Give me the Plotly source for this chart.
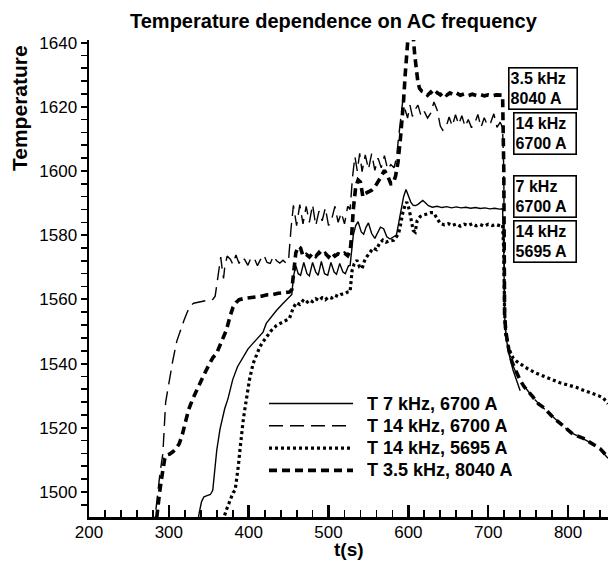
import plotly.graph_objects as go

# ---------------- data ----------------
t_7k = [336, 338, 341, 344, 347, 352, 355, 357, 360, 364, 370, 374, 380, 386, 393, 399, 405, 412, 418, 422,
        428, 435, 442, 448, 452, 454, 456, 459, 462, 465, 469, 473, 476, 480, 484, 487, 491, 495, 499, 503,
        507, 510, 514, 518, 521, 525, 527, 529, 531, 534, 537, 541, 544, 547, 550, 554, 558, 561, 565, 569,
        573, 577, 581, 585, 588, 591, 594, 597, 600, 603, 606, 609, 612, 615, 618, 621, 625, 630, 636, 642,
        648, 654, 660, 666, 672, 678, 684, 690, 696, 702, 708, 714, 718, 719.5, 720.5, 722, 725, 731, 736, 740]
T_7k = [1490, 1493.5, 1497, 1498.5, 1498.8, 1499.2, 1500.5, 1506, 1513, 1519.5, 1526, 1529, 1535, 1539, 1542,
        1544.5, 1546.2, 1548, 1549.8, 1552.5, 1554.5, 1556.6, 1558.5, 1560, 1560.8, 1561.5, 1567, 1570.5, 1568,
        1567.5, 1571.5, 1568, 1567.3, 1571.5, 1568.5, 1567.5, 1571.8, 1568, 1567.5, 1571.5, 1568.5, 1567.8,
        1571.2, 1568.5, 1568, 1570.5, 1570.5, 1576, 1580, 1583, 1584.2, 1581, 1580.3, 1582.5, 1583.8, 1580.5,
        1579, 1580.5, 1582.5, 1582, 1579.5, 1578.8, 1579.5, 1580, 1584, 1588.5, 1592, 1594.2, 1592.5, 1590.3,
        1589.3, 1589.2, 1589.6, 1590.3, 1590.8, 1590.2, 1589.2, 1588.7, 1589, 1588.6, 1588.9, 1588.5, 1588.8,
        1588.5, 1588.7, 1588.4, 1588.6, 1588.3, 1588.5, 1588.2, 1588.4, 1588.1, 1588.2, 1575, 1555, 1549,
        1544, 1538, 1534.5, 1531.5]

t_14k_6700 = [281, 282.5, 286, 289, 292.5, 296, 300, 305, 310, 315, 319, 323, 327, 331, 336, 341, 346, 350, 355,
              358, 361, 363, 365, 367, 368.5, 370, 373, 377, 380, 384, 388, 391, 395, 399, 403, 407, 411, 415,
              419, 423, 427, 431, 435, 439, 443, 447, 450, 453, 456, 460, 464, 468, 472, 476, 480, 484, 488,
              492, 496, 500, 504, 508, 512, 516, 520, 524, 527, 530, 533, 536, 539, 542, 546, 550, 554, 558,
              562, 566, 570, 574, 578, 582, 585, 588, 591, 593, 596, 599, 602, 605, 608, 612, 616, 620, 624,
              628, 632, 636, 640, 643, 647, 651, 655, 659, 663, 667, 671, 675, 679, 683, 687, 691, 695, 699,
              703, 707, 711, 715, 718, 719.5, 720.5, 722, 726, 730, 735, 740, 745, 750, 756, 763, 770, 781,
              795, 806, 820, 831, 840, 850]
T_14k_6700 = [1488, 1492, 1499.5, 1506, 1512, 1528, 1534, 1541, 1547, 1551, 1553.5, 1556, 1558, 1558.8, 1559,
              1559.3, 1559.6, 1559.5, 1560, 1561, 1567, 1571, 1573.2, 1569, 1566.5, 1570, 1573.5, 1572.5, 1571,
              1573.8, 1571.2, 1573, 1572.4, 1570.6, 1573, 1572.8, 1570.5, 1572.5, 1573.8, 1571.5, 1571.2, 1573.5,
              1572, 1571.3, 1572.2, 1571.2, 1572.5, 1582, 1589.3, 1583, 1589.5, 1583.5, 1589, 1584, 1589.5, 1583,
              1587.5, 1584.5, 1588.5, 1583, 1585, 1589, 1584, 1587, 1583.5, 1589, 1588, 1598, 1604.5, 1600,
              1605.5, 1599.8, 1605, 1600.5, 1605.4, 1600.2, 1604, 1601, 1604.8, 1600.5, 1602, 1601, 1604, 1611,
              1618, 1622, 1619, 1616.5, 1620.5, 1617, 1619, 1620.5, 1617, 1618.5, 1616.5, 1618, 1621.5, 1619,
              1614, 1612.7, 1613.5, 1616.8, 1614, 1617.5, 1614.5, 1617.2, 1613.8, 1616, 1613.5, 1614.8, 1617.6,
              1613.6, 1616.6, 1614.2, 1615, 1617.8, 1613.6, 1615.2, 1613.5, 1600, 1555, 1549.5, 1543.5, 1540,
              1537, 1534.5, 1533, 1531.3, 1529.4, 1527.6, 1526, 1523.4, 1520.2, 1518.2, 1516.4, 1515, 1513.3,
              1510.5]

t_14k_5695 = [368, 369.5, 373, 377, 380.5, 383, 385, 387, 389, 391, 393, 395, 397.3, 401, 405.5, 410, 414, 418,
              422.3, 428, 435, 441, 447, 451, 453.6, 456, 460, 464, 468, 472, 476, 480, 484, 488, 492, 496,
              500, 504, 508, 512, 516, 520, 524, 527, 529.5, 532, 535.7, 539, 542, 545, 548, 552, 556, 560,
              564, 568, 572, 576, 581.5, 585, 587.7, 590, 593, 596, 598, 601, 604, 606, 608.5, 611, 614.8,
              619, 624, 628, 631.5, 635, 640, 645, 650, 655, 660, 665, 670, 675, 680, 685, 690, 695, 700,
              705, 710, 715, 718, 719.5, 720.5, 722, 726, 731, 736, 742, 750, 760, 770, 780, 790, 800, 810,
              820, 830, 838, 844, 850]
T_14k_5695 = [1489, 1492.5, 1495, 1497.5, 1499.8, 1500.5, 1504, 1508, 1513, 1518.2, 1522, 1525.5, 1529.6, 1535,
              1540, 1543, 1545.2, 1546.8, 1548.3, 1550.2, 1551.9, 1552.8, 1553.5, 1554, 1555.6, 1557.5, 1559,
              1558.4, 1559.6, 1558.8, 1559.8, 1559.3, 1560.2, 1559.6, 1560.5, 1559.9, 1560.7, 1560.4, 1561.3,
              1560.9, 1561.6, 1561.7, 1562.3, 1562.4, 1569, 1571, 1572.2, 1570, 1569.6, 1572, 1573.3, 1574.5,
              1576, 1575.5, 1577.5, 1578.5, 1577.8, 1578.2, 1578.4, 1579.5, 1580.5, 1583, 1587, 1589.5, 1590.3,
              1588, 1584, 1581.5, 1581, 1584.5, 1585.8, 1586.3, 1586.6, 1587, 1587, 1585.5, 1583.6, 1583.2,
              1583.6, 1583, 1583.5, 1582.8, 1583.4, 1583, 1583.6, 1582.9, 1583.3, 1582.8, 1583.4, 1583, 1583.3,
              1582.9, 1583.2, 1575, 1556, 1549, 1544.5, 1541.8, 1540.6, 1539.6, 1538.3, 1537, 1536, 1535, 1534,
              1533.3, 1532.6, 1531.6, 1530.8, 1530, 1529.3, 1527.5]

t_3k5 = [283, 284.5, 288.5, 292, 295, 297, 301, 305, 309, 313, 317, 321, 325, 330, 336, 343, 350, 355, 360,
         366, 372, 377, 380.5, 384, 388, 395, 402, 409, 416, 423, 430, 437, 444, 451, 454, 456, 459, 462, 465,
         468, 472, 476, 480, 484, 488, 492, 496, 500, 504, 508, 512, 516, 520, 524, 527, 529, 531, 534, 537,
         540, 543, 546, 550, 554, 558, 562, 566, 570, 574, 578, 581, 584, 587, 590, 592, 594, 596, 598, 600,
         604, 606, 608, 610, 612, 614, 617, 620, 624, 628, 632, 636, 640, 644, 648, 652, 656, 660, 665, 670,
         675, 680, 685, 690, 695, 700, 705, 710, 715, 718, 719.5, 720.5, 722, 726, 730, 735, 740, 745, 750,
         756, 763, 770, 781, 795, 806, 820, 831, 840, 850]
T_3k5 = [1488, 1492, 1500, 1506, 1510.5, 1511.5, 1511.8, 1512.5, 1513.5, 1515, 1518, 1522, 1525.8, 1529,
         1532.5, 1536, 1539.5, 1541.8, 1543.3, 1547, 1550.4, 1555, 1557.6, 1559, 1559.9, 1560.3, 1560.5,
         1560.9, 1561, 1561.4, 1561.5, 1561.9, 1562, 1562.3, 1563, 1568, 1574.5, 1576.5, 1576, 1573.5, 1574,
         1573.2, 1574.3, 1573.4, 1574.6, 1573.6, 1574.3, 1573.2, 1574.5, 1573.5, 1574.2, 1573.8, 1574.4,
         1573.6, 1575, 1580, 1588, 1595, 1597.2, 1596.5, 1592, 1593, 1593.5, 1594, 1595, 1596.5, 1598.3,
         1600.2, 1598.5, 1596, 1596.1, 1598.5, 1602.7, 1610, 1615, 1622, 1630, 1639.5, 1643, 1644, 1642, 1636,
         1630.5, 1627.5, 1625.7, 1624.8, 1624.5, 1623.6, 1624.6, 1623.5, 1624.4, 1623.7, 1624.6, 1623.6,
         1624.3, 1623.8, 1624.3, 1623.6, 1624, 1623.5, 1623.9, 1623.5, 1623.8, 1623.4, 1623.7, 1623.4, 1623.7,
         1623.5, 1623.6, 1600, 1555, 1550, 1544, 1540.3, 1537.3, 1534.8, 1532.8, 1531.5, 1529.6, 1527.4,
         1526.2, 1523.3, 1520.4, 1518, 1516.6, 1514.8, 1513.5, 1510.8]

legend_names = ["T 7 kHz, 6700 A", "T 14 kHz, 6700 A", "T 14 kHz, 5695 A", "T 3.5 kHz, 8040 A"]
box_labels = ["3.5 kHz<br>8040 A", "14 kHz<br>6700 A", "7 kHz<br>6700 A", "14 kHz<br>5695 A"]

x_range = [200, 850]
y_range = [1492.2, 1640.8]

# ---------------- styles ----------------
FONT = "Liberation Sans, Arial, Helvetica, sans-serif"
styles = [dict(width=1.4, dash="solid"),
          dict(width=1.4, dash="14px,7px"),
          dict(width=3.2, dash="3px,3px"),
          dict(width=3.6, dash="8px,5px")]
series = [(t_7k, T_7k), (t_14k_6700, T_14k_6700), (t_14k_5695, T_14k_5695), (t_3k5, T_3k5)]

W, H = 608, 561
L, R, TOP, BOT = 89, 608, 40, 517


def px(x):
    return (x - L) / (R - L)


def py(y):
    return (BOT - y) / (BOT - TOP)


fig = go.Figure()
for (tx, ty), st, nm in zip(series, styles, legend_names):
    fig.add_trace(go.Scatter(x=tx, y=ty, mode="lines", name=nm, showlegend=False, hoverinfo="skip",
                             line=dict(color="black", width=st["width"], dash=st["dash"])))

shapes = []
annotations = []

# manual legend
leg_rows = [403.5, 425.8, 448.1, 470.4]
for yrow, st, nm in zip(leg_rows, styles, legend_names):
    shapes.append(dict(type="line", xref="paper", yref="paper", x0=px(269), x1=px(353),
                       y0=py(yrow), y1=py(yrow),
                       line=dict(color="black", width=st["width"], dash=st["dash"])))
    annotations.append(dict(xref="paper", yref="paper", x=px(366), y=py(yrow), xanchor="left",
                            yanchor="middle", showarrow=False, text="<b>%s</b>" % nm, height=20,
                            borderpad=0, font=dict(family=FONT, size=18, color="black")))

# boxed labels (left edge px, centre px, inner width)
boxes = [(507.5, 88.5, 65), (512.5, 133, 58.5), (512.5, 196.5, 59), (512.5, 241, 58.5)]
for (xl, yc, wd), txt in zip(boxes, box_labels):
    annotations.append(dict(xref="paper", yref="paper", x=px(xl), y=py(yc), xanchor="left", yanchor="middle",
                            showarrow=False, text="<b>%s</b>" % txt, align="left", width=wd,
                            bordercolor="black", borderwidth=1.6, borderpad=1, bgcolor="white",
                            font=dict(family=FONT, size=16, color="black")))

# titles
annotations.append(dict(xref="paper", yref="paper", x=px(334), y=py(21), xanchor="center", yanchor="middle",
                        showarrow=False, text="<b>Temperature dependence on AC frequency</b>",
                        font=dict(family=FONT, size=20, color="black")))
annotations.append(dict(xref="paper", yref="paper", x=px(19), y=py(108), xanchor="center", yanchor="middle",
                        textangle=-90, showarrow=False, text="<b>Temperature</b>",
                        font=dict(family=FONT, size=21, color="black")))
annotations.append(dict(xref="paper", yref="paper", x=px(348.7), y=py(549.5), xanchor="center", yanchor="middle",
                        showarrow=False, text="<b>t(s)</b>", borderpad=0,
                        font=dict(family=FONT, size=19, color="black")))

fig.update_layout(
    width=W, height=H,
    margin=dict(l=L, r=W - R, t=TOP, b=H - BOT, pad=0),
    paper_bgcolor="white", plot_bgcolor="white",
    showlegend=False, hovermode=False,
    shapes=shapes, annotations=annotations,
    font=dict(family=FONT, size=17, color="black"),
)
fig.update_xaxes(range=x_range, showgrid=False, zeroline=False, showline=True, linecolor="black", linewidth=2.5,
                 ticks="inside", ticklen=12, tickwidth=2.5, tickcolor="black", dtick=100, tick0=200,
                 ticklabelstandoff=-2,
                 tickfont=dict(family=FONT, size=17, color="black"),
                 minor=dict(ticks="inside", ticklen=7, tickwidth=1.8, tickcolor="black", dtick=20, showgrid=False))
fig.update_yaxes(range=y_range, showgrid=False, zeroline=False, showline=True, linecolor="black", linewidth=2.5,
                 ticks="outside", ticklen=6, tickwidth=2, tickcolor="black", dtick=20, tick0=1500,
                 tickfont=dict(family=FONT, size=17, color="black"),
                 minor=dict(ticks="outside", ticklen=6, tickwidth=1.6, tickcolor="black", dtick=4, showgrid=False))

fig.write_html("out.html", config={"displayModeBar": False, "staticPlot": True},
               post_script="document.body.style.margin='0';document.body.style.padding='0';")
